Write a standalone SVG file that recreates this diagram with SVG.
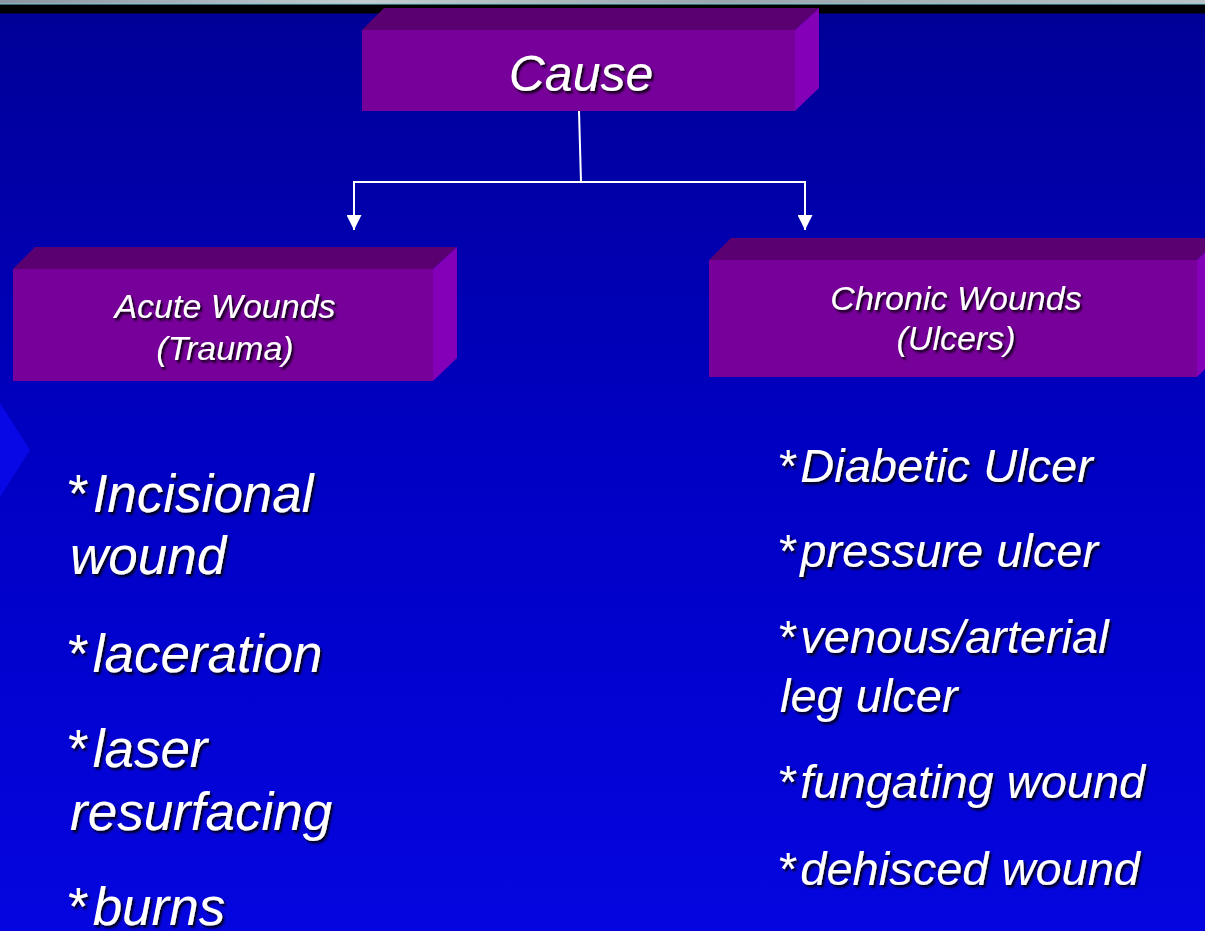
<svg xmlns="http://www.w3.org/2000/svg" width="1205" height="931" viewBox="0 0 1205 931">
<defs>
<linearGradient id="bg" x1="0" y1="0" x2="0" y2="1">
<stop offset="0" stop-color="#000096"/>
<stop offset="0.5" stop-color="#0000c4"/>
<stop offset="1" stop-color="#0505e0"/>
</linearGradient>
<linearGradient id="strip" x1="0" y1="0" x2="1" y2="0">
<stop offset="0" stop-color="#8a94a0"/>
<stop offset="0.3" stop-color="#c4ccd2"/>
<stop offset="0.6" stop-color="#9aa4ac"/>
<stop offset="1" stop-color="#b8c4c8"/>
</linearGradient>
<filter id="sh" x="-10%" y="-20%" width="130%" height="150%">
<feDropShadow dx="2" dy="2.5" stdDeviation="0.8" flood-color="#000000" flood-opacity="0.9"/>
</filter>
<marker id="arr" viewBox="0 0 10 10" refX="10" refY="5" markerWidth="15" markerHeight="15" markerUnits="userSpaceOnUse" orient="auto">
<path d="M0,0 L10,5 L0,10 Z" fill="#ffffff"/>
</marker>
</defs>
<style>
.front{fill:#77009a}
.top{fill:#5b0070}
.side{fill:#8400b8}
.t{font-family:"Liberation Sans",Arial,sans-serif;font-style:italic;fill:#ffffff;filter:url(#sh)}
.star{font-style:normal}
.conn{stroke:#ffffff;stroke-width:2;fill:none}
</style>
<rect x="0" y="0" width="1205" height="931" fill="url(#bg)"/>
<rect x="0" y="0" width="1205" height="4" fill="url(#strip)"/>
<rect x="0" y="3.5" width="1205" height="1.2" fill="#7ccfc0"/>
<rect x="0" y="4.7" width="1205" height="8.8" fill="#000000"/>
<polygon points="0,403 30,450 0,497" fill="#0808e6"/>

<g id="connectors">
<line class="conn" x1="579" y1="111" x2="581" y2="182"/>
<polyline class="conn" points="354,218 354,182 805,182 805,218"/>
<line class="conn" x1="354" y1="200" x2="354" y2="230" marker-end="url(#arr)"/>
<line class="conn" x1="805" y1="200" x2="805" y2="230" marker-end="url(#arr)"/>
</g>

<g id="cause">
<polygon class="top" points="362,30 384,8 819,8 795,30"/>
<polygon class="side" points="795,30 819,8 819,88 795,111"/>
<rect class="front" x="362" y="30" width="433" height="81"/>
<text class="t" x="581" y="91" font-size="50" text-anchor="middle">Cause</text>
</g>

<g id="acute">
<polygon class="top" points="13,269 35,247 457,247 433,269"/>
<polygon class="side" points="433,269 457,247 457,358 433,381"/>
<rect class="front" x="13" y="269" width="420" height="112"/>
<text class="t" font-size="34" text-anchor="middle"><tspan x="225" y="318">Acute Wounds</tspan><tspan x="225" y="360">(Trauma)</tspan></text>
</g>

<g id="chronic">
<polygon class="top" points="709,260 731,238 1220,238 1197,260"/>
<polygon class="side" points="1197,260 1220,238 1220,355 1197,377"/>
<rect class="front" x="709" y="260" width="488" height="117"/>
<text class="t" font-size="34" text-anchor="middle"><tspan x="956" y="310">Chronic Wounds</tspan><tspan x="956" y="350">(Ulcers)</tspan></text>
</g>

<g id="acute-list">
<text class="t" font-size="53"><tspan x="68" y="512"><tspan class="star">*</tspan><tspan dx="4">Incisional</tspan></tspan><tspan x="70" y="574">wound</tspan></text>
<text class="t" font-size="53" x="68" y="672"><tspan class="star">*</tspan><tspan dx="4">laceration</tspan></text>
<text class="t" font-size="53"><tspan x="68" y="767"><tspan class="star">*</tspan><tspan dx="4">laser</tspan></tspan><tspan x="70" y="830">resurfacing</tspan></text>
<text class="t" font-size="53" x="68" y="925"><tspan class="star">*</tspan><tspan dx="4">burns</tspan></text>
</g>

<g id="chronic-list">
<text class="t" font-size="47" x="779" y="482"><tspan class="star">*</tspan><tspan dx="3">Diabetic Ulcer</tspan></text>
<text class="t" font-size="47" x="779" y="567"><tspan class="star">*</tspan><tspan dx="3">pressure ulcer</tspan></text>
<text class="t" font-size="47"><tspan x="779" y="653"><tspan class="star">*</tspan><tspan dx="3">venous/arterial</tspan></tspan><tspan x="780" y="712">leg ulcer</tspan></text>
<text class="t" font-size="47" x="779" y="798"><tspan class="star">*</tspan><tspan dx="3">fungating wound</tspan></text>
<text class="t" font-size="47" x="779" y="885"><tspan class="star">*</tspan><tspan dx="3">dehisced wound</tspan></text>
</g>
</svg>
